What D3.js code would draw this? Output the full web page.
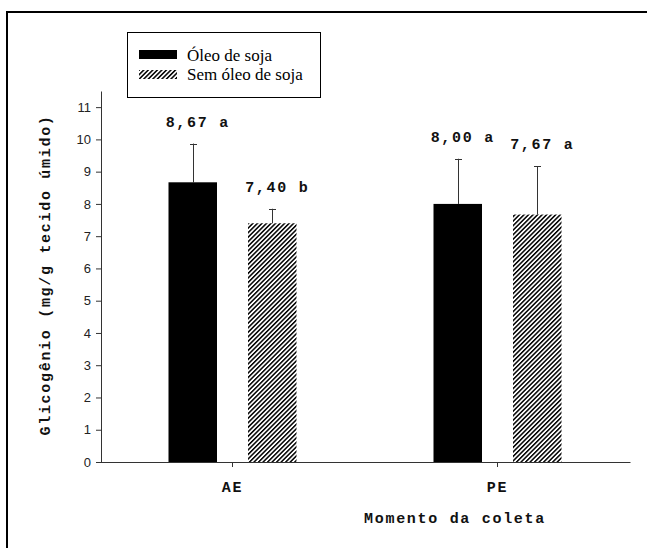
<!DOCTYPE html>
<html>
<head>
<meta charset="utf-8">
<script src="https://cdn.jsdelivr.net/npm/d3@7"></script>
<style>
  body { margin: 0; background: #fff; }
  .mono { font-family: "Liberation Mono", "Courier New", monospace; font-weight: bold; font-size: 15px; letter-spacing: 1.7px; }
</style>
</head>
<body>
<div id="chart"></div>
<script>
// data
const categories = ["AE", "PE"];
const series = ["Óleo de soja", "Sem óleo de soja"];
const oleoMeans = [8.67, 8.00];
const semOleoMeans = [7.40, 7.67];
const oleoErr = [1.2, 1.4];
const semOleoErr = [0.45, 1.5];
const oleoLetters = ["a", "a"];
const semOleoLetters = ["b", "a"];
const yTicks = [0, 1, 2, 3, 4, 5, 6, 7, 8, 9, 10, 11];

const width = 647, height = 548;

const svg = d3.select("#chart").append("svg")
    .attr("width", width)
    .attr("height", height);

// hatch pattern for "Sem óleo de soja"
svg.append("defs").append("pattern")
    .attr("id", "hatch")
    .attr("patternUnits", "userSpaceOnUse")
    .attr("width", 3.2)
    .attr("height", 3.2)
    .attr("patternTransform", "rotate(45)")
  .append("rect")
    .attr("x", 0).attr("y", 0)
    .attr("width", 1.5).attr("height", 3.2)
    .attr("fill", "#000");

// outer frame (runs off the right and bottom edge)
svg.append("rect")
    .attr("x", 7).attr("y", 12)
    .attr("width", 700).attr("height", 600)
    .attr("fill", "none")
    .attr("stroke", "#000")
    .attr("stroke-width", 2);

// scales
const x = d3.scaleBand()
    .domain(categories)
    .range([100, 630]);

const xSub = d3.scaleBand()
    .domain(series)
    .range([-64, 64])
    .paddingInner(0.39);

const y = d3.scaleLinear()
    .domain([0, 11.5])
    .range([462, 91]);

// build rows from the arrays
const rows = [];
categories.forEach((c, i) => {
  rows.push({cat: c, s: series[0], mean: oleoMeans[i], err: oleoErr[i], letter: oleoLetters[i]});
  rows.push({cat: c, s: series[1], mean: semOleoMeans[i], err: semOleoErr[i], letter: semOleoLetters[i]});
});
const fill = s => s === series[0] ? "#000" : "url(#hatch)";
const cx = d => x(d.cat) + x.bandwidth() / 2 + xSub(d.s) + xSub.bandwidth() / 2;

// error bars (upper only)
const eb = svg.append("g").attr("stroke", "#333").attr("stroke-width", 1);
eb.selectAll("line.v").data(rows).join("line")
    .attr("class", "v")
    .attr("x1", d => Math.round(cx(d)) + 0.5)
    .attr("x2", d => Math.round(cx(d)) + 0.5)
    .attr("y1", d => y(d.mean))
    .attr("y2", d => y(d.mean + d.err));
eb.selectAll("line.cap").data(rows).join("line")
    .attr("class", "cap")
    .attr("x1", d => Math.round(cx(d)) - 3)
    .attr("x2", d => Math.round(cx(d)) + 4)
    .attr("y1", d => Math.round(y(d.mean + d.err)) + 0.5)
    .attr("y2", d => Math.round(y(d.mean + d.err)) + 0.5);

// bars
svg.append("g").selectAll("rect").data(rows).join("rect")
    .attr("x", d => x(d.cat) + x.bandwidth() / 2 + xSub(d.s))
    .attr("y", d => y(d.mean))
    .attr("width", xSub.bandwidth())
    .attr("height", d => y(0) - y(d.mean))
    .attr("fill", d => fill(d.s));

// value labels
const fmt = v => d3.format(".2f")(v).replace(".", ",");
svg.append("g").selectAll("text").data(rows).join("text")
    .attr("class", "mono")
    .attr("x", d => cx(d) + 5)
    .attr("y", d => y(d.mean + d.err) - 17)
    .attr("text-anchor", "middle")
    .attr("fill", "#111")
    .text(d => fmt(d.mean) + " " + d.letter);

// y axis
const yAxis = svg.append("g")
    .attr("transform", "translate(101,0)")
    .call(d3.axisLeft(y).tickValues(yTicks).tickSize(5).tickSizeOuter(0).tickPadding(5));
yAxis.select(".domain").attr("stroke", "#333");
yAxis.selectAll(".tick line").attr("stroke", "#333");
yAxis.selectAll(".tick text")
    .attr("font-family", "'Liberation Sans', Arial, sans-serif")
    .attr("font-size", 13)
    .attr("fill", "#222");

// x axis
const xAxis = svg.append("g")
    .attr("transform", "translate(0,462)")
    .call(d3.axisBottom(x).tickSize(5).tickSizeOuter(0).tickPadding(14));
xAxis.select(".domain").attr("stroke", "#333");
xAxis.selectAll(".tick line").attr("stroke", "#333");
xAxis.selectAll(".tick text")
    .attr("class", "mono")
    .attr("font-size", null)
    .attr("font-family", null)
    .attr("fill", "#111");

// axis titles
svg.append("text")
    .attr("class", "mono")
    .attr("x", 455)
    .attr("y", 523)
    .attr("text-anchor", "middle")
    .attr("fill", "#111")
    .text("Momento da coleta");

svg.append("text")
    .attr("class", "mono")
    .attr("transform", "translate(50,275) rotate(-90)")
    .attr("text-anchor", "middle")
    .attr("fill", "#111")
    .text("Glicogênio (mg/g tecido úmido)");

// legend
const legend = svg.append("g");
legend.append("rect")
    .attr("x", 127.5).attr("y", 32.5)
    .attr("width", 193).attr("height", 65)
    .attr("fill", "#fff")
    .attr("stroke", "#000");
series.forEach((s, i) => {
  legend.append("rect")
      .attr("x", 139).attr("y", 50 + i * 20)
      .attr("width", 38).attr("height", 9)
      .attr("fill", fill(s));
  legend.append("text")
      .attr("x", 187).attr("y", 61 + i * 19)
      .attr("font-family", "'Liberation Serif', 'Times New Roman', serif")
      .attr("font-size", 17)
      .attr("fill", "#000")
      .text(s);
});
</script>
</body>
</html>
